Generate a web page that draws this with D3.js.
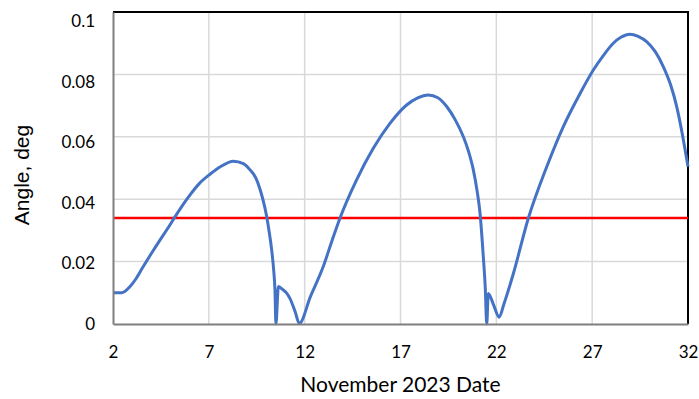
<!DOCTYPE html>
<html>
<head>
<meta charset="utf-8">
<script src="https://cdn.jsdelivr.net/npm/d3@7"></script>
<style>
  body { margin: 0; background: #fff; }
  svg { display: block; }
</style>
</head>
<body>
<svg id="chart"></svg>
<script>
// angle vs date
const dates = [2, 2.45, 2.89, 3.2, 3.58, 4.0, 4.45, 4.85, 5.24, 5.6, 6.02, 6.5, 7.06, 7.6, 8.28, 8.8, 9.15, 9.45, 9.67, 9.85,
  10.02, 10.15, 10.28, 10.38, 10.45, 10.5,
  10.63, 10.8, 11.06, 11.23, 11.5, 11.72, 12.3, 12.97, 13.4, 13.84, 14.71, 15.58, 16.45, 17.32, 17.9, 18.45, 18.95, 19.41,
  19.85, 20.28, 20.55, 20.8, 21.0, 21.15, 21.32, 21.42, 21.5,
  21.58, 21.85, 22.15, 22.4, 22.89, 23.67, 24.63, 25.49, 26.37, 27.06, 27.6, 28.1, 28.5, 28.97, 29.4, 29.84, 30.3, 30.71,
  31.1, 31.41, 31.7, 32];
const angles = [0.0100, 0.0100, 0.0120, 0.0145, 0.0184, 0.0226, 0.0269, 0.0306, 0.0344, 0.0378, 0.0414, 0.0450, 0.0480, 0.0504, 0.0522, 0.0514, 0.0494, 0.0468, 0.0432, 0.0392,
  0.0344, 0.0295, 0.0237, 0.0175, 0.0109, 0,
  0.0120, 0.0113, 0.0099, 0.0082, 0.0040, 0.0002, 0.0088, 0.0184, 0.0262, 0.0339, 0.0462, 0.0563, 0.0643, 0.0702, 0.0725, 0.0734, 0.0725, 0.0697,
  0.0655, 0.0600, 0.0553, 0.0494, 0.0425, 0.0355, 0.0216, 0.0120, 0,
  0.0098, 0.0062, 0.0022, 0.0065, 0.0162, 0.0339, 0.0504, 0.0632, 0.0739, 0.0814, 0.0862, 0.0900, 0.0919, 0.0929, 0.0922, 0.0905, 0.0872, 0.0825,
  0.0765, 0.0697, 0.0610, 0.0504];
const threshold = 0.034;
const xTicks = [2, 7, 12, 17, 22, 27, 32];
const yTicks = [0, 0.02, 0.04, 0.06, 0.08, 0.1];
const yTickLabels = ['0', '0.02', '0.04', '0.06', '0.08', '0.1'];

const width = 699, height = 399;
const margin = { top: 12, right: 11, bottom: 75, left: 113 };

const svg = d3.select('#chart')
  .attr('width', width)
  .attr('height', height);

const x = d3.scaleLinear()
  .domain([2, 32])
  .range([margin.left, width - margin.right]);

const y = d3.scaleLinear()
  .domain([0, 0.1])
  .range([height - margin.bottom, margin.top]);

// gridlines
svg.append('g')
  .selectAll('line')
  .data(xTicks.slice(1, -1))
  .join('line')
    .attr('x1', d => x(d)).attr('x2', d => x(d))
    .attr('y1', y(0)).attr('y2', y(0.1))
    .attr('stroke', '#d9d9d9')
    .attr('stroke-width', 1.5);

svg.append('g')
  .selectAll('line')
  .data(yTicks.slice(1, -1))
  .join('line')
    .attr('x1', x(2)).attr('x2', x(32))
    .attr('y1', d => y(d)).attr('y2', d => y(d))
    .attr('stroke', '#d9d9d9')
    .attr('stroke-width', 1.5);

// frame: top & right black, left & bottom grey axes
svg.append('line')
  .attr('x1', x(2)).attr('x2', x(32) + 1)
  .attr('y1', y(0.1)).attr('y2', y(0.1))
  .attr('stroke', '#000').attr('stroke-width', 2);
svg.append('line')
  .attr('x1', x(32)).attr('x2', x(32))
  .attr('y1', y(0.1)).attr('y2', y(0))
  .attr('stroke', '#000').attr('stroke-width', 2);

// red threshold
svg.append('line')
  .attr('x1', x(2)).attr('x2', x(32))
  .attr('y1', y(threshold)).attr('y2', y(threshold))
  .attr('stroke', '#ff0000')
  .attr('stroke-width', 2.5);

// curve
const line = d3.line()
  .x((d, i) => x(dates[i]))
  .y(d => y(d))
  .curve(d3.curveMonotoneX);

svg.append('path')
  .datum(angles)
  .attr('fill', 'none')
  .attr('stroke', '#4472c4')
  .attr('stroke-width', 3)
  .attr('stroke-linejoin', 'round')
  .attr('d', line);

// axes
const xAxis = svg.append('g')
  .attr('transform', `translate(0,${y(0)})`)
  .call(d3.axisBottom(x).tickValues(xTicks).tickSize(0).tickPadding(22).tickFormat(d3.format('d')));
const yAxis = svg.append('g')
  .attr('transform', `translate(${x(2)},0)`)
  .call(d3.axisLeft(y).tickValues(yTicks).tickSize(0).tickPadding(18)
    .tickFormat((d, i) => yTickLabels[i]));

[xAxis, yAxis].forEach(a => {
  a.select('.domain').attr('stroke', '#7f7f7f').attr('stroke-width', 2);
  a.selectAll('text')
    .attr('fill', '#000')
    .style('font-family', 'Lato, "Open Sans", sans-serif')
    .style('font-size', '17px');
});
// excel drifts the upper labels a little downward
yAxis.selectAll('.tick text').attr('dy', d => `${0.32 + d * 5.5}em`);

// titles
svg.append('text')
  .attr('x', x(17))
  .attr('y', 392)
  .attr('text-anchor', 'middle')
  .style('font-family', 'Lato, "Open Sans", sans-serif')
  .style('font-size', '21px')
  .text('November 2023 Date');

svg.append('text')
  .attr('transform', 'translate(29,175) rotate(-90)')
  .attr('text-anchor', 'middle')
  .style('font-family', '"Liberation Sans", Arial, sans-serif')
  .style('font-size', '21px')
  .text('Angle, deg');
</script>
</body>
</html>
